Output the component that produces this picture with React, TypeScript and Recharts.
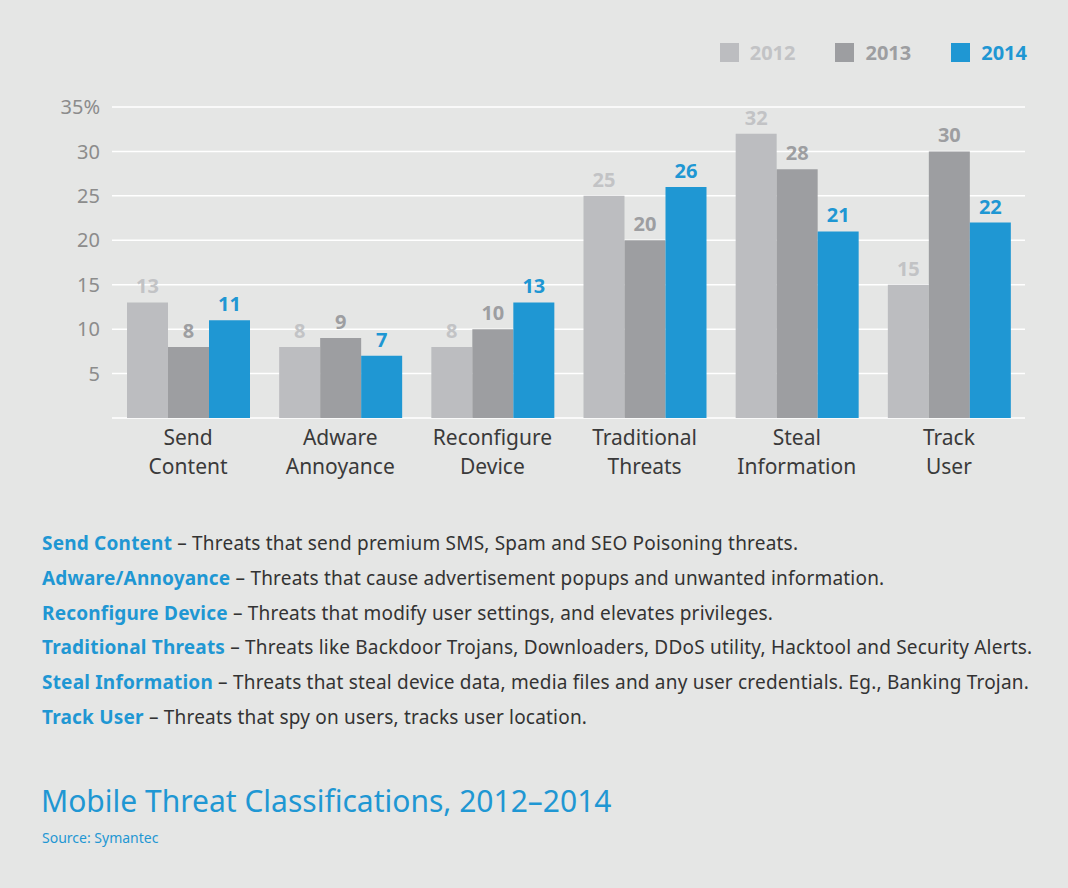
import { BarChart, Bar, XAxis, YAxis, CartesianGrid, LabelList } from "recharts"

const categories = ["Send Content", "Adware Annoyance", "Reconfigure Device", "Traditional Threats", "Steal Information", "Track User"]
const v2012 = [13, 8, 8, 25, 32, 15]
const v2013 = [8, 9, 10, 20, 28, 30]
const v2014 = [11, 7, 13, 26, 21, 22]
const yTicks = [0, 5, 10, 15, 20, 25, 30, 35]

const series = [
  { key: "y2012", name: "2012", color: "#bcbdc0", text: "#c2c3c5" },
  { key: "y2013", name: "2013", color: "#9d9ea1", text: "#9d9ea1" },
  { key: "y2014", name: "2014", color: "#1f97d3", text: "#1f97d3" },
]

const notes = [
  { name: "Send Content", text: "Threats that send premium SMS, Spam and SEO Poisoning threats." },
  { name: "Adware/Annoyance", text: "Threats that cause advertisement popups and unwanted information." },
  { name: "Reconfigure Device", text: "Threats that modify user settings, and elevates privileges." },
  { name: "Traditional Threats", text: "Threats like Backdoor Trojans, Downloaders, DDoS utility, Hacktool and Security Alerts." },
  { name: "Steal Information", text: "Threats that steal device data, media files and any user credentials. Eg., Banking Trojan." },
  { name: "Track User", text: "Threats that spy on users, tracks user location." },
]

const data = categories.map((c, i) => ({ name: c, y2012: v2012[i], y2013: v2013[i], y2014: v2014[i] }))

const FONT = "'Noto Sans', sans-serif"
const BLUE = "#1f97d3"

const CategoryTick = (props: any) => {
  const { x, y, payload } = props
  const lines = String(payload.value).split(" ")
  return (
    <text x={x} y={y} textAnchor="middle" fill="#3a3a3a" fontSize={21} fontFamily={FONT}>
      {lines.map((l, i) => (
        <tspan key={i} x={x} dy={i === 0 ? 27 : 29}>{l}</tspan>
      ))}
    </text>
  )
}

const App = () => {
  return (
    <div style={{ position: "absolute", left: 0, top: 0, width: 1068, height: 888, background: "#e5e6e5", fontFamily: FONT, overflow: "hidden" }}>
      <div style={{ position: "absolute", right: 41, top: 39, display: "flex", alignItems: "center" }}>
        {series.map(s => (
          <div key={s.key} style={{ display: "flex", alignItems: "center", marginLeft: 40 }}>
            <span style={{ width: 19, height: 19, background: s.color, display: "inline-block", marginRight: 11 }} />
            <span style={{ color: s.text, fontSize: 20, fontWeight: 700 }}>{s.name}</span>
          </div>
        ))}
      </div>
      <div style={{ position: "absolute", left: 0, top: 0 }}>
        <BarChart
          width={1068}
          height={500}
          data={data}
          margin={{ top: 107, right: 43, bottom: 12, left: 0 }}
          barGap={0}
          barCategoryGap={15}
        >
          <CartesianGrid vertical={false} stroke="#ffffff" strokeWidth={1.5} />
          <XAxis
            dataKey="name"
            axisLine={false}
            tickLine={false}
            tickSize={0}
            tickMargin={0}
            height={70}
            interval={0}
            tick={<CategoryTick />}
          />
          <YAxis
            domain={[0, 35]}
            ticks={yTicks}
            width={112}
            axisLine={false}
            tickLine={false}
            tickSize={0}
            tickMargin={12}
            tick={{ fill: "#8c8c8c", fontSize: 20, fontFamily: FONT }}
            tickFormatter={(v: number) => (v === 0 ? "" : v === 35 ? "35%" : String(v))}
          />
          {series.map(s => (
            <Bar key={s.key} dataKey={s.key} name={s.name} fill={s.color} isAnimationActive={false}>
              <LabelList dataKey={s.key} position="top" offset={9} fill={s.text} fontSize={20} fontWeight={700} fontFamily={FONT} />
            </Bar>
          ))}
        </BarChart>
      </div>
      <div style={{ position: "absolute", left: 42, top: 526, fontSize: 19, letterSpacing: 0.2, color: "#333333", lineHeight: "34.8px" }}>
        {notes.map(n => (
          <div key={n.name} style={{ whiteSpace: "nowrap" }}>
            <span style={{ color: BLUE, fontWeight: 700 }}>{n.name}</span> – {n.text}
          </div>
        ))}
      </div>
      <div style={{ position: "absolute", left: 41, top: 780, fontSize: 30, color: BLUE, whiteSpace: "nowrap" }}>
        Mobile Threat Classifications, 2012–2014
      </div>
      <div style={{ position: "absolute", left: 42, top: 828, fontSize: 14, color: BLUE }}>Source: Symantec</div>
    </div>
  )
}

export default App
